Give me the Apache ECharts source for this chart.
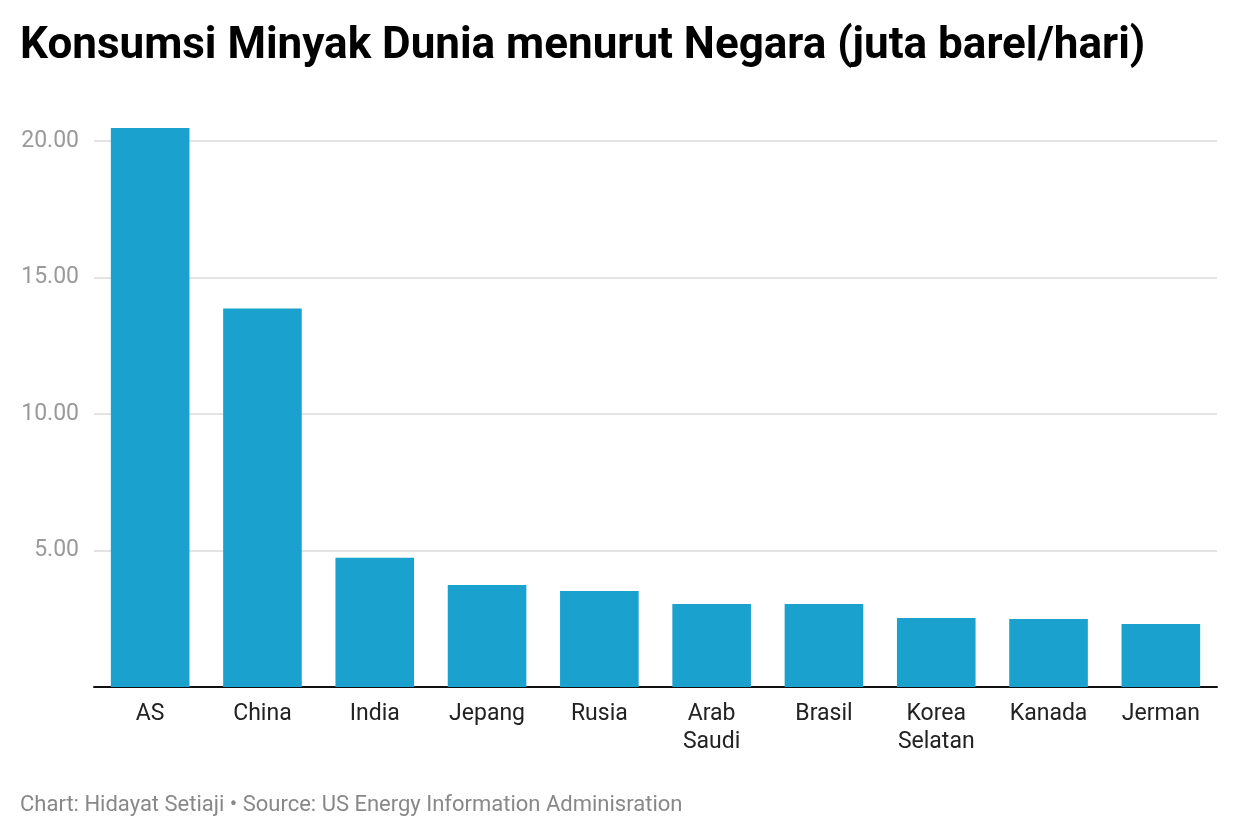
<!DOCTYPE html>
<html><head><meta charset="utf-8">
<script src="https://cdn.jsdelivr.net/npm/echarts@6/dist/echarts.min.js"></script>
<style>html,body{margin:0;padding:0;background:#fff}#c{width:1240px;height:840px}</style>
</head><body><div id="c"></div>
<script>
const categories = ['AS','China','India','Jepang','Rusia','Arab\nSaudi','Brasil','Korea\nSelatan','Kanada','Jerman'];
const values = [20.48, 13.86, 4.73, 3.74, 3.52, 3.04, 3.04, 2.53, 2.49, 2.31];
const titleText = 'Konsumsi Minyak Dunia menurut Negara (juta barel/hari)';
const footerText = 'Chart: Hidayat Setiaji • Source: US Energy Information Adminisration';

const chart = echarts.init(document.getElementById('c'), null, {renderer:'canvas'});
chart.setOption({
  backgroundColor:'#fff',
  animation:false,
  title:[{
    text:titleText, left:15, top:20,
    textStyle:{fontFamily:'Roboto', fontWeight:'bold', fontSize:44, color:'#000'}
  },{
    text:footerText, left:15, top:789,
    textStyle:{fontFamily:'Roboto', fontWeight:'normal', fontSize:22, color:'#888'}
  }],
  grid:{left:94, right:23, top:141, bottom:153, containLabel:false},
  xAxis:{
    type:'category', data:categories,
    axisLine:{lineStyle:{color:'#111', width:2}},
    axisTick:{show:false},
    axisLabel:{fontFamily:'Roboto', fontSize:23, color:'#222', margin:13, lineHeight:28}
  },
  yAxis:{
    type:'value', min:0, max:20, interval:5,
    axisLine:{show:false}, axisTick:{show:false},
    splitLine:{lineStyle:{color:'#e3e3e3', width:2}},
    axisLabel:{fontFamily:'Roboto', fontSize:23, color:'#9a9a9a', margin:15,
      formatter:v=>v===0?'':v.toFixed(2)}
  },
  series:[{
    type:'bar', data:values, barCategoryGap:'30%', clip:false,
    itemStyle:{color:'#1ba1cd'}
  }]
});
</script></body></html>
